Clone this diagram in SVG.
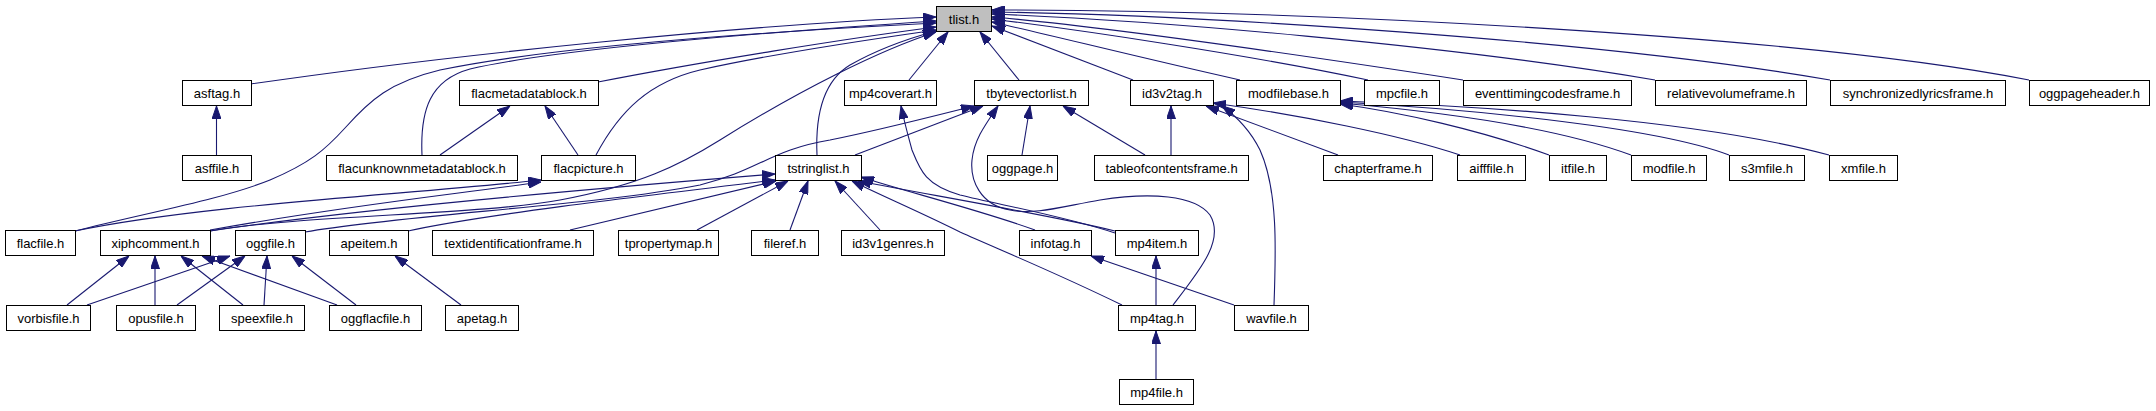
<svg xmlns="http://www.w3.org/2000/svg" width="2156" height="411" viewBox="0 0 2156 411">
<style>
.n rect{fill:#fff;stroke:#000;stroke-width:1}
.n.g rect{fill:#bfbfbf}
.n text{font-family:"Liberation Sans",Arial,sans-serif;font-size:13px;text-anchor:middle;fill:#000}
#edges path{fill:none;stroke:#191970;stroke-width:1.1;marker-end:url(#arr)}
</style>
<defs>
<marker id="arr" viewBox="0 0 13 9" refX="13" refY="4.5" markerWidth="13" markerHeight="9" markerUnits="userSpaceOnUse" orient="auto">
<path d="M0,0 L13,4.5 L0,9 z" fill="#191970" stroke="#191970" stroke-width="1"/>
</marker>
</defs>
<rect x="0" y="0" width="2156" height="411" fill="#fff"/>
<g id="edges">
<!-- into tlist.h -->
<path d="M251,84 C450,55 750,24 936,17"/>
<path d="M75,231 C150,212 220,200 270,180 C310,163 325,150 345,128 C370,100 390,82 440,70 C560,45 800,30 936,23"/>
<path d="M422,155 C420,110 430,80 470,69 C560,48 800,30 936,21"/>
<path d="M598,82 C700,62 850,38 936,27"/>
<path d="M596,155 C620,110 650,82 700,70 C780,52 880,38 936,30"/>
<path d="M210,231 C300,215 480,215 560,200 C640,185 680,165 720,140 C800,90 880,50 936,32"/>
<path d="M817,155 C815,110 825,80 850,65 C880,48 910,38 936,31"/>
<path d="M909,80 L948,32"/>
<path d="M1019,80 L980,32"/>
<path d="M1133,80 L992,26"/>
<path d="M1240,80 C1150,60 1050,35 992,22"/>
<path d="M1368,80 C1250,55 1080,30 992,19"/>
<path d="M1463,80 C1300,55 1100,26 992,17"/>
<path d="M1655,80 C1450,45 1150,20 992,14"/>
<path d="M1830,80 C1600,40 1200,15 992,12"/>
<path d="M2029,80 C1800,35 1300,10 992,10"/>
<!-- asftag -->
<path d="M216.5,155 L216.5,106"/>
<!-- flacmetadatablock -->
<path d="M440,155 L510,106"/>
<path d="M578,155 L545,106"/>
<!-- flacpicture -->
<path d="M75,231 C200,205 400,195 541,180"/>
<path d="M210,230 C350,205 450,195 541,182"/>
<!-- tstringlist -->
<path d="M210,231 C350,210 600,188 775,174"/>
<path d="M408,231 C480,215 650,195 775,180"/>
<path d="M570,230 L776,181"/>
<path d="M697,230 L788,181"/>
<path d="M790,230 L808,181"/>
<path d="M880,230 L835,181"/>
<path d="M1035,230 C980,210 900,190 861,177"/>
<path d="M1115,231 C1050,215 930,195 858,181"/>
<path d="M1122,305 C1050,270 1000,250 960,232 C920,212 880,195 852,181"/>
<!-- tbytevectorlist -->
<path d="M855,155 L983,106"/>
<path d="M305,232 C400,215 600,205 700,185 C760,170 770,150 830,140 C880,130 930,117 974,106"/>
<path d="M1022,155 L1030,106"/>
<path d="M1145,155 L1063,106"/>
<path d="M1173,305 C1200,270 1225,240 1210,215 C1195,195 1150,192 1100,200 C1060,207 1035,215 1010,210 C980,205 970,180 972,160 C974,140 985,125 998,106"/>
<!-- mp4coverart -->
<path d="M1115,233 C1060,215 1000,205 960,195 C925,185 920,170 912,150 C908,135 905,125 901,106"/>
<!-- id3v2tag -->
<path d="M1171,155 L1171,106"/>
<path d="M1338,155 L1206,106"/>
<path d="M1460,155 C1400,135 1300,115 1213,103"/>
<path d="M1274,305 C1276,250 1278,190 1260,150 C1250,130 1236,116 1222,106"/>
<!-- infotag / mp4item / mp4tag -->
<path d="M1234,305 L1091,256"/>
<path d="M1156,305 L1156,256"/>
<path d="M1156,379 L1156,331"/>
<!-- modfilebase -->
<path d="M1549,155 C1480,130 1400,112 1340,104"/>
<path d="M1631,155 C1550,125 1420,110 1340,103"/>
<path d="M1729,155 C1650,125 1450,108 1340,102"/>
<path d="M1829,155 C1700,120 1480,106 1340,101"/>
<!-- apeitem -->
<path d="M461,305 L395,256"/>
<!-- xiphcomment -->
<path d="M67,305 L129,256"/>
<path d="M155,305 L155,256"/>
<path d="M243,305 L181,256"/>
<path d="M337,305 L202,256"/>
<!-- oggfile -->
<path d="M87,305 L230,256"/>
<path d="M177,305 L245,256"/>
<path d="M264,305 L267,256"/>
<path d="M356,305 L292,256"/>
</g>
<g id="n-tlist" class="n g"><rect x="936.5" y="6.5" width="55" height="25"/><text x="964" y="23.5">tlist.h</text></g>
<g id="n-asftag" class="n"><rect x="182.5" y="80.5" width="69" height="25"/><text x="217" y="97.5">asftag.h</text></g>
<g id="n-flacmetadatablock" class="n"><rect x="459.5" y="80.5" width="139" height="25"/><text x="529" y="97.5">flacmetadatablock.h</text></g>
<g id="n-mp4coverart" class="n"><rect x="844.5" y="80.5" width="92" height="25"/><text x="890.5" y="97.5">mp4coverart.h</text></g>
<g id="n-tbytevectorlist" class="n"><rect x="974.5" y="80.5" width="114" height="25"/><text x="1031.5" y="97.5">tbytevectorlist.h</text></g>
<g id="n-id3v2tag" class="n"><rect x="1130.5" y="80.5" width="83" height="25"/><text x="1172" y="97.5">id3v2tag.h</text></g>
<g id="n-modfilebase" class="n"><rect x="1236.5" y="80.5" width="104" height="25"/><text x="1288.5" y="97.5">modfilebase.h</text></g>
<g id="n-mpcfile" class="n"><rect x="1364.5" y="80.5" width="75" height="25"/><text x="1402" y="97.5">mpcfile.h</text></g>
<g id="n-eventtimingcodesframe" class="n"><rect x="1463.5" y="80.5" width="168" height="25"/><text x="1547.5" y="97.5">eventtimingcodesframe.h</text></g>
<g id="n-relativevolumeframe" class="n"><rect x="1655.5" y="80.5" width="151" height="25"/><text x="1731" y="97.5">relativevolumeframe.h</text></g>
<g id="n-synchronizedlyricsframe" class="n"><rect x="1830.5" y="80.5" width="175" height="25"/><text x="1918" y="97.5">synchronizedlyricsframe.h</text></g>
<g id="n-oggpageheader" class="n"><rect x="2029.5" y="80.5" width="120" height="25"/><text x="2089.5" y="97.5">oggpageheader.h</text></g>
<g id="n-asffile" class="n"><rect x="182.5" y="155.5" width="69" height="25"/><text x="217" y="172.5">asffile.h</text></g>
<g id="n-flacunknownmetadatablock" class="n"><rect x="326.5" y="155.5" width="191" height="25"/><text x="422" y="172.5">flacunknownmetadatablock.h</text></g>
<g id="n-flacpicture" class="n"><rect x="541.5" y="155.5" width="94" height="25"/><text x="588.5" y="172.5">flacpicture.h</text></g>
<g id="n-tstringlist" class="n"><rect x="775.5" y="155.5" width="86" height="25"/><text x="818.5" y="172.5">tstringlist.h</text></g>
<g id="n-oggpage" class="n"><rect x="987.5" y="155.5" width="70" height="25"/><text x="1022.5" y="172.5">oggpage.h</text></g>
<g id="n-tableofcontentsframe" class="n"><rect x="1094.5" y="155.5" width="154" height="25"/><text x="1171.5" y="172.5">tableofcontentsframe.h</text></g>
<g id="n-chapterframe" class="n"><rect x="1323.5" y="155.5" width="109" height="25"/><text x="1378" y="172.5">chapterframe.h</text></g>
<g id="n-aifffile" class="n"><rect x="1457.5" y="155.5" width="68" height="25"/><text x="1491.5" y="172.5">aifffile.h</text></g>
<g id="n-itfile" class="n"><rect x="1549.5" y="155.5" width="57" height="25"/><text x="1578" y="172.5">itfile.h</text></g>
<g id="n-modfile" class="n"><rect x="1631.5" y="155.5" width="75" height="25"/><text x="1669" y="172.5">modfile.h</text></g>
<g id="n-s3mfile" class="n"><rect x="1729.5" y="155.5" width="75" height="25"/><text x="1767" y="172.5">s3mfile.h</text></g>
<g id="n-xmfile" class="n"><rect x="1829.5" y="155.5" width="68" height="25"/><text x="1863.5" y="172.5">xmfile.h</text></g>
<g id="n-flacfile" class="n"><rect x="5.5" y="230.5" width="70" height="25"/><text x="40.5" y="247.5">flacfile.h</text></g>
<g id="n-xiphcomment" class="n"><rect x="100.5" y="230.5" width="110" height="25"/><text x="155.5" y="247.5">xiphcomment.h</text></g>
<g id="n-oggfile" class="n"><rect x="235.5" y="230.5" width="70" height="25"/><text x="270.5" y="247.5">oggfile.h</text></g>
<g id="n-apeitem" class="n"><rect x="329.5" y="230.5" width="79" height="25"/><text x="369" y="247.5">apeitem.h</text></g>
<g id="n-textidentificationframe" class="n"><rect x="432.5" y="230.5" width="161" height="25"/><text x="513" y="247.5">textidentificationframe.h</text></g>
<g id="n-tpropertymap" class="n"><rect x="618.5" y="230.5" width="100" height="25"/><text x="668.5" y="247.5">tpropertymap.h</text></g>
<g id="n-fileref" class="n"><rect x="751.5" y="230.5" width="67" height="25"/><text x="785" y="247.5">fileref.h</text></g>
<g id="n-id3v1genres" class="n"><rect x="841.5" y="230.5" width="103" height="25"/><text x="893" y="247.5">id3v1genres.h</text></g>
<g id="n-infotag" class="n"><rect x="1019.5" y="230.5" width="72" height="25"/><text x="1055.5" y="247.5">infotag.h</text></g>
<g id="n-mp4item" class="n"><rect x="1115.5" y="230.5" width="83" height="25"/><text x="1157" y="247.5">mp4item.h</text></g>
<g id="n-vorbisfile" class="n"><rect x="6.5" y="305.5" width="84" height="25"/><text x="48.5" y="322.5">vorbisfile.h</text></g>
<g id="n-opusfile" class="n"><rect x="116.5" y="305.5" width="79" height="25"/><text x="156" y="322.5">opusfile.h</text></g>
<g id="n-speexfile" class="n"><rect x="219.5" y="305.5" width="85" height="25"/><text x="262" y="322.5">speexfile.h</text></g>
<g id="n-oggflacfile" class="n"><rect x="329.5" y="305.5" width="92" height="25"/><text x="375.5" y="322.5">oggflacfile.h</text></g>
<g id="n-apetag" class="n"><rect x="445.5" y="305.5" width="73" height="25"/><text x="482" y="322.5">apetag.h</text></g>
<g id="n-mp4tag" class="n"><rect x="1118.5" y="305.5" width="77" height="25"/><text x="1157" y="322.5">mp4tag.h</text></g>
<g id="n-wavfile" class="n"><rect x="1234.5" y="305.5" width="74" height="25"/><text x="1271.5" y="322.5">wavfile.h</text></g>
<g id="n-mp4file" class="n"><rect x="1119.5" y="379.5" width="74" height="25"/><text x="1156.5" y="396.5">mp4file.h</text></g>
</svg>
